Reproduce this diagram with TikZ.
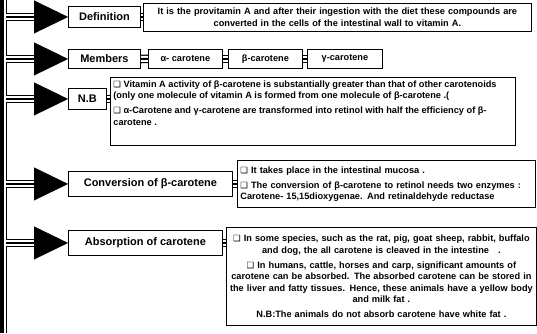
\documentclass[tikz,border=0pt]{standalone}
\usepackage{fontspec}
\setmainfont{Liberation Sans}
\newfontfamily\dingfont{DejaVu Sans}
\usepackage{tikz}
\usetikzlibrary{arrows.meta, positioning}
\newcommand{\bulletsq}{{\dingfont\mdseries\fontsize{8.5}{8.5}\selectfont ❑}}

\begin{document}
\begin{tikzpicture}[
  x=1pt, y=-1pt,
  label/.style={draw, line width=0.9pt, font=\fontsize{11}{13}\selectfont\bfseries, inner sep=0pt, anchor=north west, align=center},
  note/.style={draw, line width=0.8pt, font=\fontsize{9.2}{11.5}\selectfont\bfseries, inner sep=3pt, anchor=north west},
  member/.style={note, inner sep=0pt, minimum width=74pt, minimum height=19pt},
  stripes/.style={draw, line width=8.6pt, postaction={draw, white, line width=6pt}, postaction={draw, black, line width=2pt}},
  pointer/.style={-{Triangle[length=34pt, width=33pt]}}
]
  \useasboundingbox (0,0) rectangle (537,333);

  % rail on the left
  \fill (0,0) rectangle (3.6,333);
  \draw[line width=1.3pt] (6.2,0) -- (6.2,333);
  \coordinate (rail) at (6.2,0);

  \node[label, minimum width=72pt, minimum height=21pt] (def) at (68,6) {Definition};
  \node[note, align=center, text width=382pt, minimum width=388pt, minimum height=28pt] (deftxt) at (143,3) {It is the provitamin A and after their ingestion with the diet these compounds are\\converted in the cells of the intestinal wall to vitamin A.};

  \node[label, minimum width=72pt, minimum height=19pt] (mem) at (68,49) {Members};
  \node[member] (alpha) at (148,49) {α- carotene};
  \node[member] (beta) at (228,49) {β-carotene};
  \node[member, minimum width=75pt] (gamma) at (307,49) {γ-carotene};

  \node[label, minimum width=38pt, minimum height=21pt] (nb) at (68,88) {N.B};
  \node[note] (nbtxt) at (110,77) {\parbox[t][62pt][t]{399pt}{\raggedright
    \bulletsq\ Vitamin A activity of β-carotene is substantially greater than that of other carotenoids\\
    (only one molecule of vitamin A is formed from one molecule of β-carotene .(\\[3.5pt]
    \bulletsq\ α-Carotene and γ-carotene are transformed into retinol with half the efficiency of β-\\
    carotene .}};

  \node[label, minimum width=164pt, minimum height=25pt] (conv) at (68,171) {Conversion of β-carotene};
  \node[note, align=left, text width=292pt, minimum width=298pt, minimum height=47pt] (convtxt) at (237,160) {\bulletsq\ It takes place in the intestinal mucosa .\\[3.5pt]
    \bulletsq\ The conversion of β-carotene to retinol needs two enzymes :\\
    Carotene- 15,15dioxygenae. And retinaldehyde reductase};

  \node[label, minimum width=154pt, minimum height=25pt] (abs) at (68,230) {Absorption of carotene};
  \node[note, align=center, text width=304pt, minimum width=310pt, minimum height=98pt] (abstxt) at (226,227) {\bulletsq\ In some species, such as the rat, pig, goat sheep, rabbit, buffalo\\
    and dog, the all carotene is cleaved in the intestine \ \ .\\[3.5pt]
    \bulletsq\ In humans, cattle, horses and carp, significant amounts of\\
    carotene can be absorbed. The absorbed carotene can be stored in\\
    the liver and fatty tissues. Hence, these animals have a yellow body\\
    and milk fat .\\[3.5pt]
    N.B:The animals do not absorb carotene have white fat .};

  % links from the rail
  \draw[stripes] (rail |- def.west) -- ([xshift=-34pt]def.west);
  \draw[pointer] ([xshift=-34pt]def.west) -- (def.west);
  \draw[stripes] (rail |- mem.west) -- ([xshift=-34pt]mem.west);
  \draw[pointer] ([xshift=-34pt]mem.west) -- (mem.west);
  \draw[stripes] (rail |- nb.west) -- ([xshift=-34pt]nb.west);
  \draw[pointer] ([xshift=-34pt]nb.west) -- (nb.west);
  \draw[stripes] (rail |- conv.west) -- ([xshift=-34pt]conv.west);
  \draw[pointer] ([xshift=-34pt]conv.west) -- (conv.west);
  \draw[stripes] (rail |- abs.west) -- ([xshift=-34pt]abs.west);
  \draw[pointer] ([xshift=-34pt]abs.west) -- (abs.west);

  % short links between boxes
  \draw[stripes] (def.east) -- (def.east -| deftxt.west);
  \draw[stripes] (mem.east) -- (alpha.west);
  \draw[stripes] (alpha.east) -- (beta.west);
  \draw[stripes] (beta.east) -- (gamma.west);
  \draw[stripes] (nb.east) -- (nb.east -| nbtxt.west);
  \draw[stripes] (conv.east) -- (conv.east -| convtxt.west);
  \draw[stripes] (abs.east) -- (abs.east -| abstxt.west);
\end{tikzpicture}
\end{document}
